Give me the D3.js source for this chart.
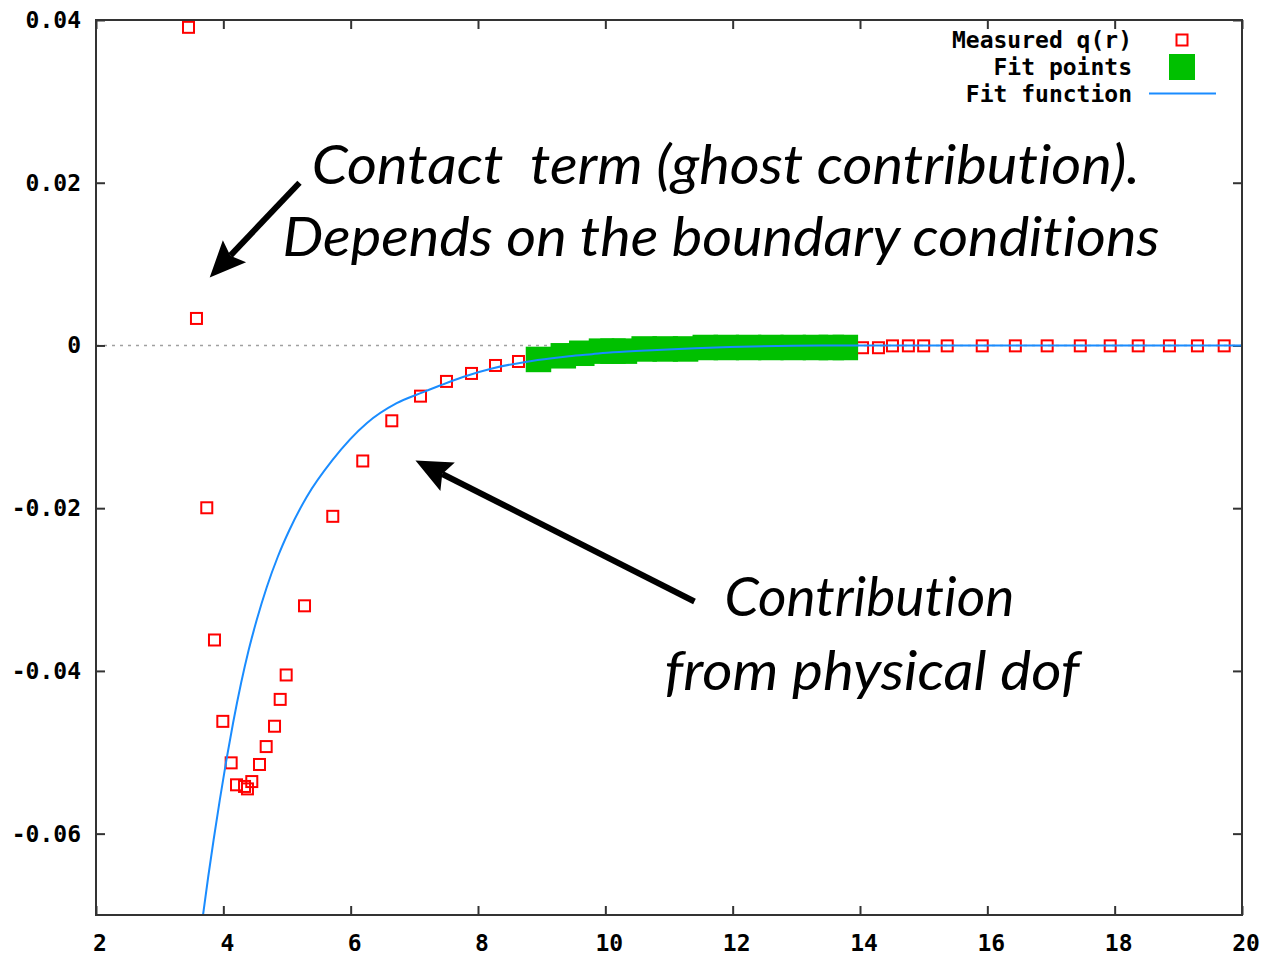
<!DOCTYPE html>
<html>
<head>
<meta charset="utf-8">
<script src="https://cdn.jsdelivr.net/npm/d3@7"></script>
<style>
  html, body { margin: 0; padding: 0; background: #fff; }
  svg { display: block; }
  .anno { font-variant-ligatures: none; font-feature-settings: "liga" 0, "dlig" 0; }
</style>
</head>
<body>
<svg id="chart" width="1263" height="956"></svg>
<script>
// ---------------- data ----------------
const xTicks = [2, 4, 6, 8, 10, 12, 14, 16, 18, 20];
const xTickLabels = ["2", "4", "6", "8", "10", "12", "14", "16", "18", "20"];
const yTicks = [-0.06, -0.04, -0.02, 0, 0.02, 0.04];
const yTickLabels = ["-0.06", "-0.04", "-0.02", "0", "0.02", "0.04"];

// Measured q(r)
const measuredR = [3.453, 3.578, 3.740, 3.861, 3.992, 4.123, 4.207, 4.333, 4.379, 4.447,
  4.568, 4.673, 4.804, 4.893, 4.987, 5.275, 5.719, 6.190, 6.646, 7.097,
  7.505, 7.898, 8.275, 8.636,
  8.95, 9.34, 9.63, 9.94, 10.30, 10.61, 11.26, 11.57, 12.25, 12.95, 13.55,
  14.04, 14.29, 14.51, 14.76, 15.00, 15.37, 15.92, 16.44, 16.94, 17.46,
  17.93, 18.37, 18.86, 19.30, 19.72];
const measuredQ = [0.0391, 0.00332, -0.01995, -0.0362, -0.0462, -0.0513, -0.0540, -0.0542, -0.0545, -0.0536,
  -0.0515, -0.0493, -0.0468, -0.0435, -0.0405, -0.0320, -0.0210, -0.0142, -0.00926, -0.00623,
  -0.00442, -0.00344, -0.00246, -0.00197,
  -0.00172, -0.00127, -0.00096, -0.00070, -0.00070, -0.00043, -0.00043, -0.00025, -0.00025, -0.00025, -0.00025,
  -0.00028, -0.00028, -0.00005, -0.00005, -0.00005, -0.00005, -0.00005, -0.00005, -0.00005, -0.00005,
  -0.00005, -0.00005, -0.00005, -0.00005, -0.00005];

// Fit points
const fitR = [8.95, 9.34, 9.63, 9.94, 10.12, 10.30, 10.61, 10.94, 11.26, 11.57,
  11.90, 12.25, 12.60, 12.95, 13.30, 13.55, 13.77];
const fitQ = [-0.00172, -0.00127, -0.00096, -0.00070, -0.00070, -0.00070, -0.00043, -0.00043, -0.00043, -0.00025,
  -0.00025, -0.00025, -0.00025, -0.00025, -0.00025, -0.00025, -0.00025];

const curveR = [3.681, 3.762, 3.847, 3.944, 4.048, 4.153, 4.279, 4.398, 4.524, 4.683,
  4.854, 5.038, 5.309, 5.716, 6.252, 6.723, 7.141, 7.403, 7.764, 8.236,
  8.770, 9.162, 9.429, 9.791, 10.120, 10.811, 11.408, 13.403, 20.0];
const curveQ = [-0.07000, -0.06533, -0.06078, -0.05587, -0.05095, -0.04640, -0.04149, -0.03743, -0.03374, -0.02968,
  -0.02600, -0.02268, -0.01862, -0.01407, -0.00956, -0.00710, -0.00574, -0.00492, -0.00387, -0.00280,
  -0.00199, -0.00157, -0.00133, -0.00107, -0.00084, -0.00055, -0.00034, -0.00002, -0.00002];

const legendLabels = ["Measured q(r)", "Fit points", "Fit function"];

// Annotations (anchored in data units)
const annoLines = [
  { text: "Contact  term (ghost contribution).", r: 5.39, q: 0.0199, w: 828 },
  { text: "Depends on the boundary conditions", r: 4.93, q: 0.0110, w: 877 },
  { text: "Contribution", r: 11.87, q: -0.03325, w: 290 },
  { text: "from physical dof", r: 10.93, q: -0.0424, w: 415 }
];
const arrows = [
  { fromR: 5.196, fromQ: 0.0200, toR: 3.786, toQ: 0.00836 },
  { fromR: 11.40, fromQ: -0.03147, toR: 7.018, toQ: -0.01413 }
];

// ---------------- layout ----------------
const mLeft = 96, mRight = 1242, mTop = 20, mBottom = 915;
const svg = d3.select("#chart");

const x = d3.scaleLinear().domain([2, 20]).range([mLeft, mRight]);
const y = d3.scaleLinear().domain([-0.07, 0.04]).range([mBottom, mTop]);

const tickFont = "'DejaVu Sans Mono', 'Liberation Mono', monospace";

svg.append("defs").append("clipPath").attr("id", "plotclip")
  .append("rect").attr("x", mLeft).attr("y", mTop).attr("width", mRight - mLeft).attr("height", mBottom - mTop);

// zero line
svg.append("line")
  .attr("x1", mLeft).attr("x2", mRight)
  .attr("y1", y(0)).attr("y2", y(0))
  .attr("stroke", "#a0a0a0").attr("stroke-width", 1.5)
  .attr("stroke-dasharray", "3,5");

// axes with inward ticks (mirrored)
const tickLen = 9;
function styleAxis(g) {
  g.select(".domain").remove();
  g.selectAll(".tick line").attr("stroke", "#333").attr("stroke-width", 2);
}
svg.append("g").attr("transform", `translate(0,${mBottom})`)
  .call(d3.axisBottom(x).tickValues(xTicks).tickSize(-tickLen).tickFormat(""))
  .call(styleAxis);
svg.append("g").attr("transform", `translate(0,${mTop})`)
  .call(d3.axisTop(x).tickValues(xTicks).tickSize(-tickLen).tickFormat(""))
  .call(styleAxis);
svg.append("g").attr("transform", `translate(${mLeft},0)`)
  .call(d3.axisLeft(y).tickValues(yTicks).tickSize(-tickLen).tickFormat(""))
  .call(styleAxis);
svg.append("g").attr("transform", `translate(${mRight},0)`)
  .call(d3.axisRight(y).tickValues(yTicks).tickSize(-tickLen).tickFormat(""))
  .call(styleAxis);

// tick labels
svg.append("g").selectAll("text").data(xTicks).join("text")
  .attr("x", d => x(d) + 4).attr("y", 943)
  .attr("text-anchor", "middle").attr("dominant-baseline", "central")
  .attr("font-family", tickFont).attr("font-weight", "bold").attr("font-size", 23)
  .attr("fill", "#000")
  .text((d, i) => xTickLabels[i]);
svg.append("g").selectAll("text").data(yTicks).join("text")
  .attr("x", 81).attr("y", d => y(d))
  .attr("text-anchor", "end").attr("dominant-baseline", "central")
  .attr("font-family", tickFont).attr("font-weight", "bold").attr("font-size", 23)
  .attr("fill", "#000")
  .text((d, i) => yTickLabels[i]);

const plot = svg.append("g").attr("clip-path", "url(#plotclip)");

// measured points
const measured = measuredR.map((r, i) => ({ r, q: measuredQ[i] }));
const sq = 11;
plot.append("g").selectAll("rect").data(measured).join("rect")
  .attr("x", d => x(d.r) - sq / 2).attr("y", d => y(d.q) - sq / 2)
  .attr("width", sq).attr("height", sq)
  .attr("fill", "none").attr("stroke", "#ff0000").attr("stroke-width", 2);

// fit points
const fit = fitR.map((r, i) => ({ r, q: fitQ[i] }));
const gs = 25.5;
plot.append("g").selectAll("rect").data(fit).join("rect")
  .attr("x", d => x(d.r) - gs / 2).attr("y", d => y(d.q) - gs / 2)
  .attr("width", gs).attr("height", gs)
  .attr("fill", "#00c000");

// fit function
const curve = curveR.map((r, i) => ({ r, q: curveQ[i] }));
plot.append("path").datum(curve)
  .attr("d", d3.line().curve(d3.curveMonotoneX).x(d => x(d.r)).y(d => y(d.q)))
  .attr("fill", "none").attr("stroke", "#1a8cff").attr("stroke-width", 2);

// frame
svg.append("rect")
  .attr("x", mLeft).attr("y", mTop).attr("width", mRight - mLeft).attr("height", mBottom - mTop)
  .attr("fill", "none").attr("stroke", "#333").attr("stroke-width", 2);

// legend
const legY = [40, 67, 94];
const lg = svg.append("g");
lg.selectAll("text").data(legendLabels).join("text")
  .attr("x", 1132).attr("y", (d, i) => legY[i])
  .attr("text-anchor", "end").attr("dominant-baseline", "central")
  .attr("font-family", tickFont).attr("font-weight", "bold").attr("font-size", 23)
  .attr("fill", "#000").text(d => d);
lg.append("rect").attr("x", 1182 - sq / 2).attr("y", legY[0] - sq / 2)
  .attr("width", sq).attr("height", sq)
  .attr("fill", "none").attr("stroke", "#ff0000").attr("stroke-width", 2);
lg.append("rect").attr("x", 1182 - 13).attr("y", legY[1] - 13)
  .attr("width", 26).attr("height", 26).attr("fill", "#00c000");
lg.append("line").attr("x1", 1149).attr("x2", 1216)
  .attr("y1", legY[2] - 0.5).attr("y2", legY[2] - 0.5)
  .attr("stroke", "#1a8cff").attr("stroke-width", 2);

// annotations
const annoFont = "'Gill Sans', Lato, 'Open Sans', sans-serif";
svg.append("g").selectAll("text").data(annoLines).join("text")
  .attr("class", "anno")
  .attr("x", d => x(d.r)).attr("y", d => y(d.q))
  .attr("font-family", annoFont).attr("font-style", "italic").attr("font-size", 55)
  .attr("fill", "#000")
  .attr("textLength", d => d.w).attr("lengthAdjust", "spacingAndGlyphs")
  .style("white-space", "pre")
  .text(d => d.text);

const headLen = 36, headHalf = 16, notch = 6;
arrows.forEach(a => {
  const x0 = x(a.fromR), y0 = y(a.fromQ), x1 = x(a.toR), y1 = y(a.toQ);
  const dx = x1 - x0, dy = y1 - y0, L = Math.hypot(dx, dy);
  const ux = dx / L, uy = dy / L, px = -uy, py = ux;
  const bx = x1 - ux * headLen, by = y1 - uy * headLen;
  svg.append("line")
    .attr("x1", x0).attr("y1", y0)
    .attr("x2", bx + ux * notch).attr("y2", by + uy * notch)
    .attr("stroke", "#000").attr("stroke-width", 6);
  const pts = [
    [x1, y1],
    [bx + px * headHalf, by + py * headHalf],
    [bx + ux * notch, by + uy * notch],
    [bx - px * headHalf, by - py * headHalf]
  ];
  svg.append("path").attr("d", "M" + pts.map(p => p.join(",")).join("L") + "Z")
    .attr("fill", "#000");
});
</script>
</body>
</html>
